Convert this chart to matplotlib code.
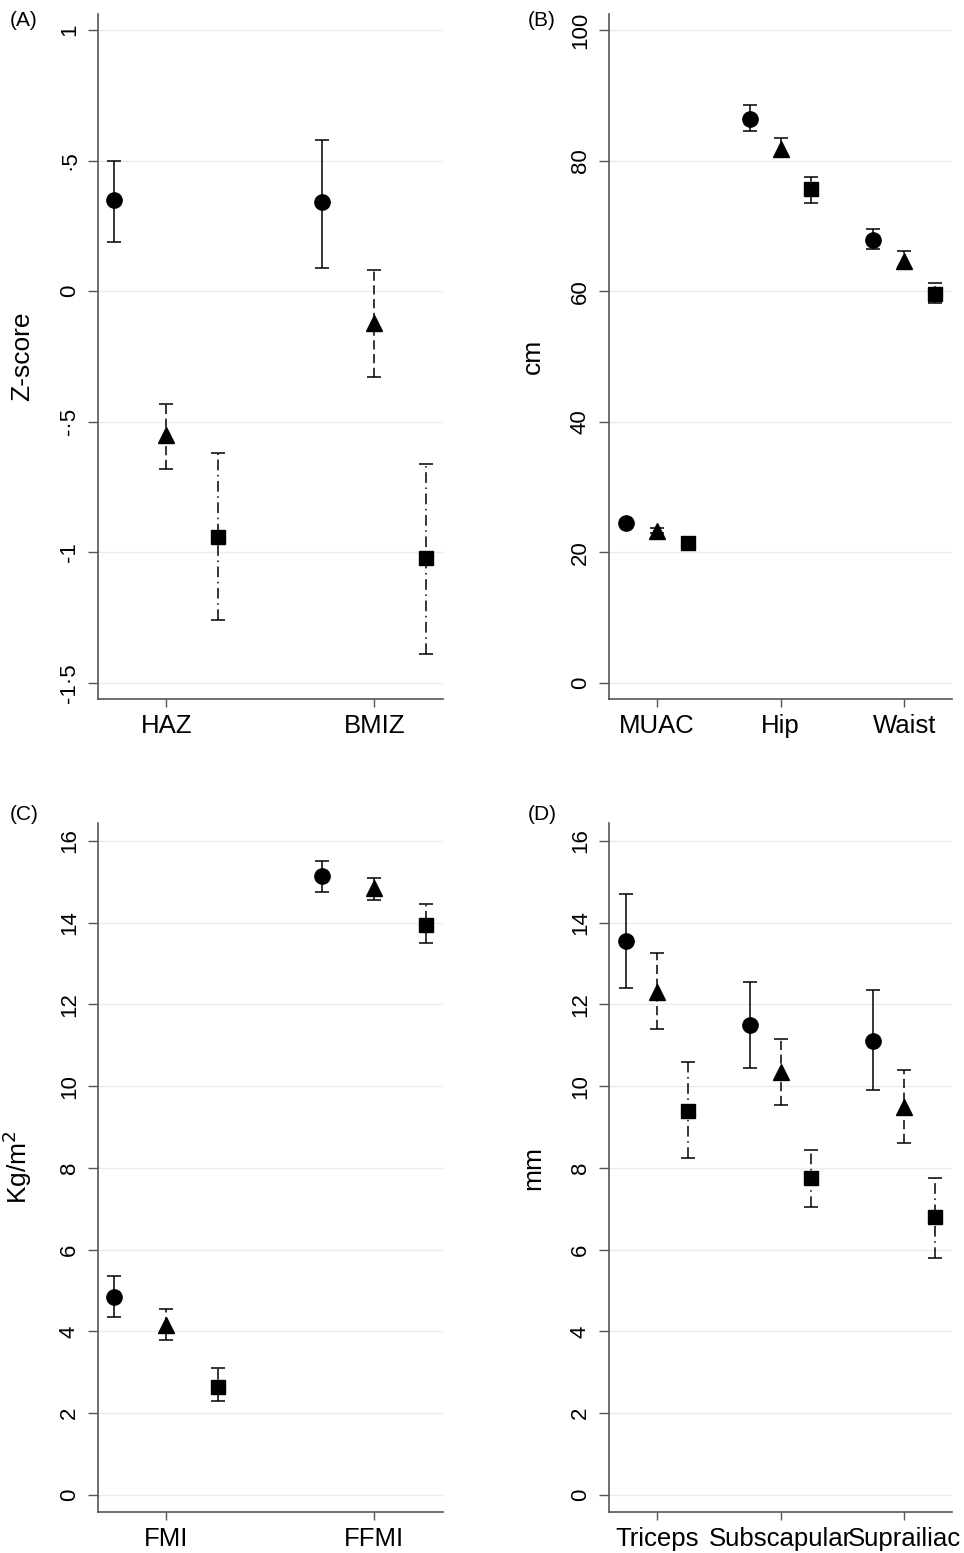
import matplotlib
matplotlib.use('Agg')
import matplotlib.pyplot as plt
import numpy as np

plt.rcParams['font.family'] = ['Liberation Sans', 'DejaVu Sans']

# 三组：circle / triangle / square，每组 (均值, 下限, 上限)
# (A) Z-score
a_cats = ['HAZ', 'BMIZ']
a_circ = [0.35, 0.34]
a_circ_lo = [0.19, 0.09]
a_circ_hi = [0.50, 0.58]
a_tri = [-0.55, -0.12]
a_tri_lo = [-0.68, -0.33]
a_tri_hi = [-0.43, 0.08]
a_sq = [-0.94, -1.02]
a_sq_lo = [-1.26, -1.39]
a_sq_hi = [-0.62, -0.66]
a_ticks = [1, 0.5, 0, -0.5, -1, -1.5]
a_ticklabels = ['1', '\u00b75', '0', '-\u00b75', '-1', '-1\u00b75']

# (B) cm
b_cats = ['MUAC', 'Hip', 'Waist']
b_circ = [24.5, 86.3, 67.9]
b_circ_lo = [24.1, 84.5, 66.5]
b_circ_hi = [24.9, 88.5, 69.5]
b_tri = [23.3, 81.8, 64.6]
b_tri_lo = [22.9, 80.5, 63.7]
b_tri_hi = [23.7, 83.4, 66.2]
b_sq = [21.4, 75.6, 59.6]
b_sq_lo = [21.0, 73.5, 58.2]
b_sq_hi = [21.8, 77.5, 61.3]
b_ticks = [0, 20, 40, 60, 80, 100]

# (C) Kg/m2
c_cats = ['FMI', 'FFMI']
c_circ = [4.85, 15.15]
c_circ_lo = [4.35, 14.75]
c_circ_hi = [5.35, 15.5]
c_tri = [4.15, 14.85]
c_tri_lo = [3.8, 14.55]
c_tri_hi = [4.55, 15.1]
c_sq = [2.65, 13.95]
c_sq_lo = [2.3, 13.5]
c_sq_hi = [3.1, 14.45]

# (D) mm
d_cats = ['Triceps', 'Subscapular', 'Suprailiac']
d_circ = [13.55, 11.5, 11.1]
d_circ_lo = [12.4, 10.45, 9.9]
d_circ_hi = [14.7, 12.55, 12.35]
d_tri = [12.3, 10.35, 9.5]
d_tri_lo = [11.4, 9.55, 8.6]
d_tri_hi = [13.25, 11.15, 10.4]
d_sq = [9.4, 7.75, 6.8]
d_sq_lo = [8.25, 7.05, 5.8]
d_sq_hi = [10.6, 8.45, 7.75]
cd_ticks = [0, 2, 4, 6, 8, 10, 12, 14, 16]

W, H = 964, 1553
fig = plt.figure(figsize=(W / 100, H / 100), dpi=100)


def px_axes(x0, x1, y0, y1):
    # 像素坐标转 figure 坐标
    return fig.add_axes([x0 / W, 1 - y1 / H, (x1 - x0) / W, (y1 - y0) / H])


def draw_group(ax, xs, m, lo, hi, marker, ms, ls):
    m = np.array(m)
    err = [m - np.array(lo), np.array(hi) - m]
    cont = ax.errorbar(xs, m, yerr=err, fmt='none', ecolor='black',
                       elinewidth=1.1, capsize=5, capthick=1.1, zorder=3)
    for lc in cont.lines[2]:
        lc.set_linestyle(ls)
    ax.plot(xs, m, linestyle='none', marker=marker, color='black',
            markersize=ms, zorder=4)


def style(ax, cats, ticks, ticklabels, ylim, xlim, ylabel, lab_x):
    ax.set_xlim(*xlim)
    ax.set_ylim(*ylim)
    ax.set_yticks(ticks)
    ax.set_yticklabels(ticklabels, rotation=90, va='center', fontsize=16)
    ax.set_xticks(range(1, len(cats) + 1))
    ax.set_xticklabels(cats, fontsize=18.5)
    for s in ['top', 'right']:
        ax.spines[s].set_visible(False)
    for s in ['left', 'bottom']:
        ax.spines[s].set_color('#555555')
        ax.spines[s].set_linewidth(1.2)
    ax.tick_params(axis='y', length=7, width=1, color='#555555', pad=6)
    ax.tick_params(axis='x', length=6, width=1, color='#555555', pad=5)
    for t in ticks:
        ax.axhline(t, color='#ececec', lw=1.0, zorder=0)
    ax.set_ylabel(ylabel, fontsize=19)
    ax.yaxis.set_label_coords(lab_x, 0.5)


def panel(ax, cats, circ, tri, sq, off):
    x = np.arange(1, len(cats) + 1)
    draw_group(ax, x - off, *circ, 'o', 11, '-')
    draw_group(ax, x, *tri, '^', 11, (0, (6, 3)))
    draw_group(ax, x + off, *sq, 's', 10, (0, (7, 3, 1, 3)))


axA = px_axes(98, 443, 14, 699)
panel(axA, a_cats, (a_circ, a_circ_lo, a_circ_hi), (a_tri, a_tri_lo, a_tri_hi),
      (a_sq, a_sq_lo, a_sq_hi), 0.25)
style(axA, a_cats, a_ticks, a_ticklabels, (-1.561, 1.061), (0.671, 2.33), 'Z-score', -0.185)

axB = px_axes(609, 952, 14, 699)
panel(axB, b_cats, (b_circ, b_circ_lo, b_circ_hi), (b_tri, b_tri_lo, b_tri_hi),
      (b_sq, b_sq_lo, b_sq_hi), 0.25)
style(axB, b_cats, b_ticks, [str(t) for t in b_ticks], (-2.45, 102.45), (0.613, 3.387), 'cm', -0.187)

axC = px_axes(98, 443, 823, 1512)
panel(axC, c_cats, (c_circ, c_circ_lo, c_circ_hi), (c_tri, c_tri_lo, c_tri_hi),
      (c_sq, c_sq_lo, c_sq_hi), 0.25)
style(axC, c_cats, cd_ticks, [str(t) for t in cd_ticks], (-0.416, 16.44), (0.671, 2.33), 'Kg/m$^2$', -0.185)

axD = px_axes(609, 952, 823, 1512)
panel(axD, d_cats, (d_circ, d_circ_lo, d_circ_hi), (d_tri, d_tri_lo, d_tri_hi),
      (d_sq, d_sq_lo, d_sq_hi), 0.25)
style(axD, d_cats, cd_ticks, [str(t) for t in cd_ticks], (-0.416, 16.44), (0.613, 3.387), 'mm', -0.187)

for lab, x, y in [('(A)', 10, 20), ('(B)', 528, 20), ('(C)', 10, 815), ('(D)', 528, 815)]:
    fig.text(x / W, 1 - y / H, lab, fontsize=15, va='center', ha='left')

fig.savefig('out.png', dpi=100)
